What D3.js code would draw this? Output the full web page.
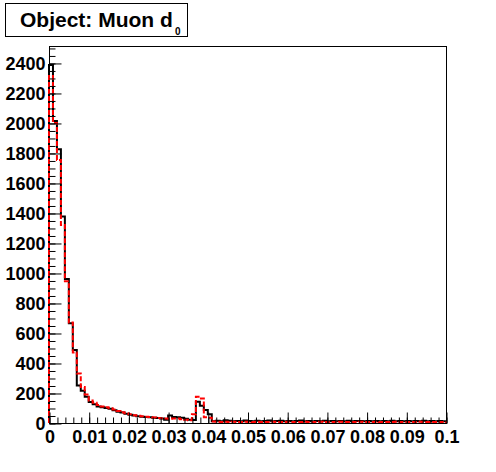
<!DOCTYPE html>
<html>
<head>
<meta charset="utf-8">
<script src="https://cdn.jsdelivr.net/npm/d3@7"></script>
<style>
  body { margin: 0; background: #fff; }
  svg { display: block; }
  text { font-family: "Liberation Sans", Arial, Helvetica, sans-serif; font-weight: bold; }
</style>
</head>
<body>
<div id="chart"></div>
<script>
// histogram range and binning
var xMin = 0, xMax = 0.1, nBins = 100;
var yMax = 2513;

// black (solid) histogram, one value per bin of width 0.001
var blackCounts = [
  2387, 2013, 1824, 1376, 960, 665, 487, 250, 215, 175,
  140, 125, 110, 105, 100, 95, 85, 75, 70, 62,
  55, 50, 45, 42, 40, 38, 35, 33, 30, 22,
  50, 40, 38, 35, 28, 22, 20, 142, 115, 87,
  58, 12, 15, 12, 18, 15, 12, 14, 12, 16,
  13, 12, 15, 12, 14, 16, 12, 13, 15, 12,
  14, 12, 13, 16, 12, 14, 12, 13, 12, 15,
  12, 14, 12, 13, 12, 15, 12, 13, 14, 12,
  13, 12, 14, 12, 13, 12, 15, 12, 13, 12,
  14, 12, 13, 12, 15, 12, 13, 12, 14, 12
];

// red (dashed) histogram
var redCounts = [
  2313, 2000, 1753, 1320, 945, 670, 470, 330, 240, 190,
  150, 135, 120, 110, 105, 98, 90, 80, 72, 65,
  58, 52, 48, 45, 42, 40, 36, 34, 32, 30,
  28, 30, 30, 25, 22, 18, 58, 175, 164, 38,
  35, 10, 8, 7, 9, 6, 8, 7, 6, 8,
  7, 6, 8, 7, 6, 7, 8, 6, 7, 6,
  8, 7, 6, 7, 8, 6, 7, 6, 8, 7,
  6, 7, 6, 8, 7, 6, 7, 6, 8, 7,
  6, 7, 8, 6, 7, 6, 7, 8, 6, 7,
  6, 7, 6, 8, 7, 6, 7, 6, 7, 6
];

var xTickValues = d3.range(0, 11).map(function(i) { return i / 100; });
var xTickLabels = ["0", "0.01", "0.02", "0.03", "0.04", "0.05", "0.06", "0.07", "0.08", "0.09", "0.1"];
var yTickValues = d3.range(0, 2401, 200);

var titleMain = "Object: Muon d";
var titleSub = "0";

// layout
var width = 496, height = 472;
var frame = {left: 49, right: 446, top: 46, bottom: 423};

var svg = d3.select('#chart').append('svg')
    .attr('width', width)
    .attr('height', height);

var x = d3.scaleLinear().domain([xMin, xMax]).range([frame.left, frame.right]);
var y = d3.scaleLinear().domain([0, yMax]).range([frame.bottom, frame.top]);

var binWidth = (xMax - xMin) / nBins;

function stepPath(counts) {
    var p = d3.path();
    p.moveTo(x(xMin), y(0));
    counts.forEach(function(c, i) {
        p.lineTo(x(xMin + i * binWidth), y(c));
        p.lineTo(x(xMin + (i + 1) * binWidth), y(c));
    });
    p.lineTo(x(xMax), y(0));
    return p.toString();
}

// frame
svg.append('rect')
    .attr('x', frame.left + 0.5)
    .attr('y', frame.top + 0.5)
    .attr('width', frame.right - frame.left)
    .attr('height', frame.bottom - frame.top)
    .attr('fill', 'none')
    .attr('stroke', '#000')
    .attr('stroke-width', 1);

// histograms
svg.append('path')
    .attr('d', stepPath(blackCounts))
    .attr('fill', 'none')
    .attr('stroke', '#000')
    .attr('stroke-width', 2);

svg.append('path')
    .attr('d', stepPath(redCounts))
    .attr('fill', 'none')
    .attr('stroke', '#ff0000')
    .attr('stroke-width', 2)
    .attr('stroke-dasharray', '5,2');

// x axis: minor then major
var xMinor = svg.append('g')
    .attr('transform', 'translate(0.5,' + (frame.bottom + 0.5) + ')')
    .call(d3.axisBottom(x)
        .tickValues(d3.range(0, 51).map(function(i) { return i * 0.002; }))
        .tickSize(-6).tickFormat(''));

var xMajor = svg.append('g')
    .attr('transform', 'translate(0.5,' + (frame.bottom + 0.5) + ')')
    .call(d3.axisBottom(x)
        .tickValues(xTickValues)
        .tickSize(-11)
        .tickPadding(7)
        .tickFormat(function(d, i) { return xTickLabels[i]; }));

// y axis
var yMinor = svg.append('g')
    .attr('transform', 'translate(' + (frame.left + 0.5) + ',0.5)')
    .call(d3.axisLeft(y)
        .tickValues(d3.range(0, 2501, 50))
        .tickSize(-6).tickFormat(''));

var yMajor = svg.append('g')
    .attr('transform', 'translate(' + (frame.left + 0.5) + ',0.5)')
    .call(d3.axisLeft(y)
        .tickValues(yTickValues)
        .tickSize(-12)
        .tickPadding(4)
        .tickFormat(d3.format('d')));

svg.selectAll('.domain').remove();
svg.selectAll('.tick line').attr('stroke', '#000');
svg.selectAll('.tick text')
    .attr('fill', '#000')
    .style('font-size', '18px')
    .style('font-family', '"Liberation Sans", Arial, sans-serif')
    .style('font-weight', 'bold');

// title box
var titleG = svg.append('g');
titleG.append('rect')
    .attr('x', 5.5).attr('y', 3.5)
    .attr('width', 182).attr('height', 33)
    .attr('fill', '#fff')
    .attr('stroke', '#000');
var t = titleG.append('text')
    .attr('x', 20).attr('y', 27)
    .style('font-size', '21px')
    .text(titleMain);
titleG.append('text')
    .attr('x', 175).attr('y', 35)
    .style('font-size', '10px')
    .text(titleSub);
</script>
</body>
</html>
